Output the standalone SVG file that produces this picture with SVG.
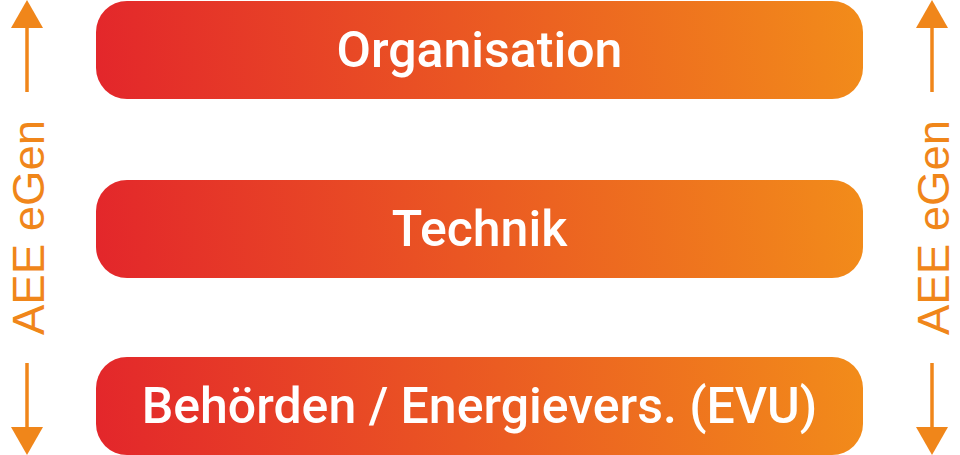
<svg xmlns="http://www.w3.org/2000/svg" width="960" height="455" viewBox="0 0 960 455">
<defs>
<linearGradient id="g1" gradientUnits="userSpaceOnUse" x1="96" y1="99" x2="863" y2="1">
<stop offset="0" stop-color="#E3262B"/>
<stop offset="1" stop-color="#F28C1A"/>
</linearGradient>
<linearGradient id="g2" href="#g1" gradientUnits="userSpaceOnUse" x1="96" y1="278" x2="863" y2="180"/>
<linearGradient id="g3" href="#g1" gradientUnits="userSpaceOnUse" x1="96" y1="455" x2="863" y2="357"/>
<style>
.lbl{font-family:Roboto,"Liberation Sans",sans-serif;font-weight:500;font-size:50px;fill:#fff;text-anchor:middle}
.side{font-family:"Liberation Sans",Arial,sans-serif;font-size:45px;fill:#F0861A;text-anchor:middle}
.ln{stroke:#F0861A;stroke-width:3.5;fill:none}
.hd{fill:#F0861A}
</style>
</defs>
<rect width="960" height="455" fill="#fff"/>
<g id="organisation">
<rect fill="url(#g1)" x="96" y="1" width="767" height="98" rx="31"/>
<text class="lbl" x="479.5" y="67">Organisation</text>
</g>
<g id="technik">
<rect fill="url(#g2)" x="96" y="180" width="767" height="98" rx="31"/>
<text class="lbl" x="479.5" y="246">Technik</text>
</g>
<g id="behoerden">
<rect fill="url(#g3)" x="96" y="357" width="767" height="98" rx="31"/>
<text class="lbl" x="479.5" y="423">Behörden / Energievers. (EVU)</text>
</g>
<g id="connectors">
<line class="ln" x1="27" y1="26" x2="27" y2="92"/>
<polygon class="hd" points="27,0 43,28 11,28"/>
<line class="ln" x1="27" y1="363" x2="27" y2="430"/>
<polygon class="hd" points="27,455 43,427 11,427"/>
<line class="ln" x1="932" y1="26" x2="932" y2="92"/>
<polygon class="hd" points="932,0 948,28 916,28"/>
<line class="ln" x1="932" y1="363" x2="932" y2="430"/>
<polygon class="hd" points="932,455 948,427 916,427"/>
</g>
<g id="side-left">
<text class="side" transform="translate(44,227.5) rotate(-90)" x="0" y="0" textLength="215" lengthAdjust="spacingAndGlyphs">AEE eGen</text>
</g>
<g id="side-right">
<text class="side" transform="translate(949,227.5) rotate(-90)" x="0" y="0" textLength="215" lengthAdjust="spacingAndGlyphs">AEE eGen</text>
</g>
</svg>
